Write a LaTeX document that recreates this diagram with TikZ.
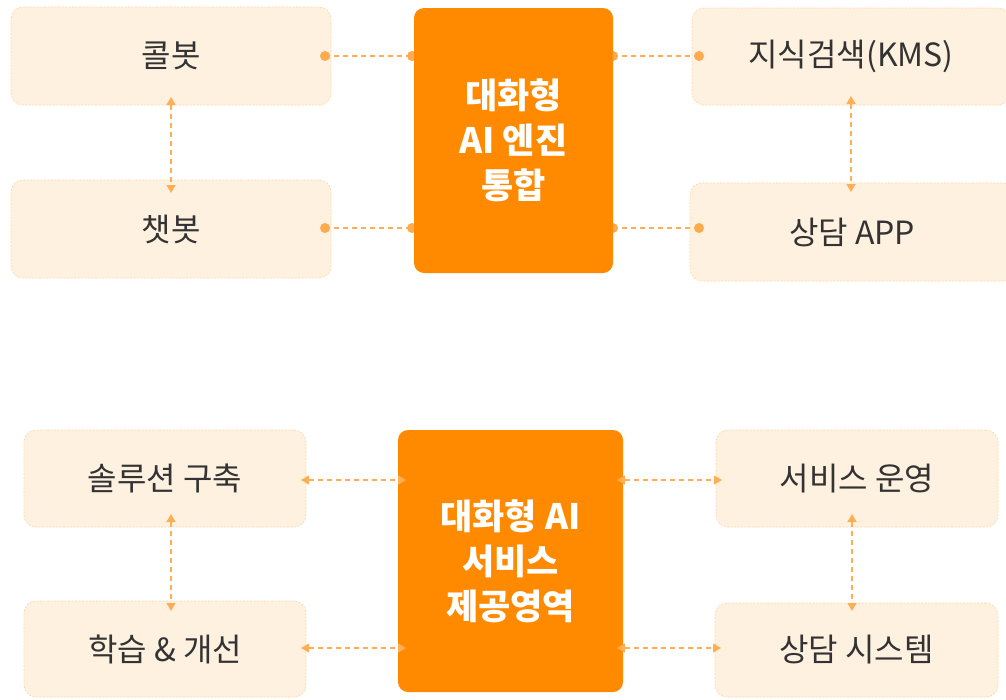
\documentclass[tikz,border=0pt]{standalone}
\usepackage{fontspec}
\setmainfont{Noto Sans CJK KR}
\usetikzlibrary{arrows.meta}
\definecolor{boxfill}{HTML}{FFF1E0}
\definecolor{boxline}{HTML}{FCD8AD}
\definecolor{mainor}{HTML}{FF8A00}
\definecolor{connc}{HTML}{FFAE55}
\definecolor{dotc}{HTML}{FFAA4C}
\definecolor{txt}{HTML}{333333}
\begin{document}
\begin{tikzpicture}[x=1pt,y=-1pt,
  lbox/.style={draw=boxline, fill=boxfill, line width=0.7pt, dash pattern=on 2pt off 1.5pt,
    rounded corners=12pt, inner sep=0pt, outer sep=0pt, text=txt,
    font=\fontsize{32}{36}\selectfont},
  cbox/.style={fill=mainor, rounded corners=10pt, inner sep=0pt, outer sep=0pt, text=white,
    align=center, font=\fontsize{35}{45}\selectfont\bfseries},
  conn/.style={draw=connc, line width=1.3pt, dash pattern=on 5pt off 4pt},
  biarrow/.style={conn, {Triangle[length=8pt,width=9pt]}-{Triangle[length=8pt,width=9pt]}},
  dotm/.style={fill=dotc}
]
\useasboundingbox (0,0) rectangle (1006,699);
\clip (0,0) rectangle (1006,699);

% ---------- top section: light boxes
\node[lbox, minimum width=320pt, minimum height=98pt] (kol) at (171,56) {콜봇};
\node[lbox, minimum width=320pt, minimum height=98pt] (chat) at (171,229) {챗봇};
\node[lbox, minimum width=318pt, minimum height=97pt] (kms) at (851,56.5) {지식검색(KMS)};
\node[lbox, minimum width=324pt, minimum height=98pt] (app) at (852,232) {상담 APP};

% center box edge coordinates (box drawn later over the connectors)
\coordinate (ceTw) at (414,140);
\coordinate (ceTe) at (613,140);

% top connectors with dots
\coordinate (k1) at ([xshift=-6pt]kol.east);
\coordinate (k2) at ([xshift=-2pt]ceTw |- kol.east);
\coordinate (k3) at (ceTe |- kol.east);
\coordinate (k4) at ([xshift=7pt]kms.west |- kol.east);
\coordinate (c1) at ([xshift=-6pt,yshift=1pt]chat.east);
\coordinate (c2) at ([xshift=-2pt]ceTw |- c1);
\coordinate (c3) at (ceTe |- c1);
\coordinate (c4) at ([xshift=9pt]app.west |- c1);
\draw[conn] (k1) -- (k2);
\draw[conn] (k3) -- (k4);
\draw[conn] (c1) -- (c2);
\draw[conn] (c3) -- (c4);
\foreach \p in {k1,k2,k3,k4,c1,c2,c3,c4} \fill[dotm] (\p) circle (5pt);

\node[cbox, minimum width=199pt, minimum height=265pt] (ceT) at (513.5,140.5) {대화형\\AI 엔진\\통합};

% vertical arrows top
\draw[biarrow] ([yshift=8pt]kol.south) -- ([yshift=-13pt]chat.north);
\draw[biarrow] ([yshift=9pt]kms.south) -- ([yshift=-9pt]kms.south |- app.north);

% ---------- bottom section
\node[lbox, minimum width=282pt, minimum height=97pt] (sol) at (165,478.5) {솔루션 구축};
\node[lbox, minimum width=282pt, minimum height=96pt] (learn) at (165,649) {학습 \& 개선};
\node[lbox, minimum width=282pt, minimum height=97pt] (svc) at (857,478.5) {서비스 운영};
\node[lbox, minimum width=283pt, minimum height=94pt] (sys) at (856.5,650) {상담 시스템};
\node[cbox, minimum width=225pt, minimum height=262pt] (ceB) at (510.5,561) {대화형 AI\\서비스\\제공영역};

\draw[biarrow] ([xshift=-5pt,yshift=-1.5pt]sol.east) -- ([xshift=8pt]ceB.west |- 0,480);
\draw[biarrow] ([xshift=-6pt]ceB.east |- 0,480) -- ([xshift=6pt,yshift=-1.5pt]svc.west);
\draw[biarrow] ([xshift=-5pt,yshift=1pt]learn.east) -- ([xshift=8pt]ceB.west |- 0,648);
\draw[biarrow] ([xshift=-6pt]ceB.east |- 0,648) -- ([xshift=6pt]sys.west |- 0,648);

\draw[biarrow] ([xshift=6pt,yshift=13pt]sol.south) -- ([xshift=6pt,yshift=-10pt]learn.north);
\draw[biarrow] ([xshift=-5pt,yshift=13pt]svc.south) -- ([xshift=-4.5pt,yshift=-8pt]sys.north);
\end{tikzpicture}
\end{document}
